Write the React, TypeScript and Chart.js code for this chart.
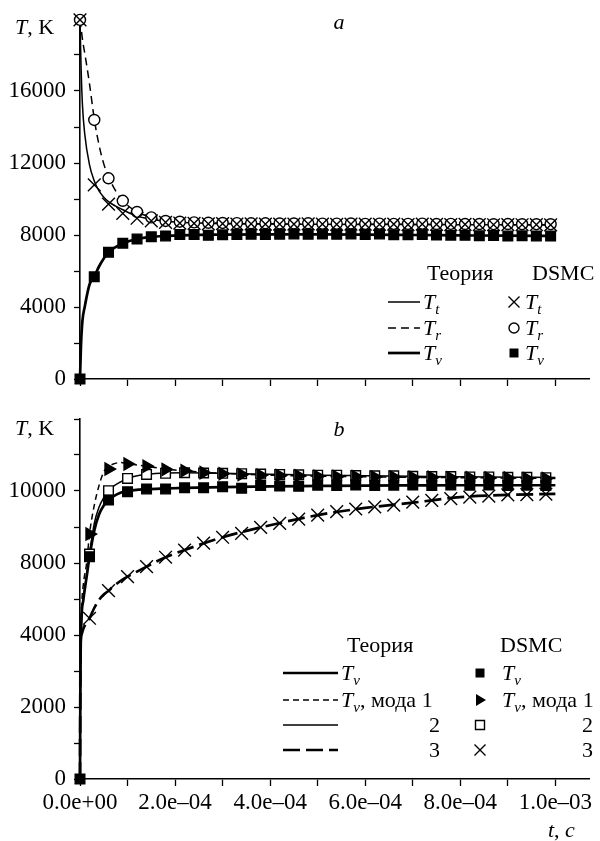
import React, { useEffect, useRef } from 'react';
import { Chart, registerables, LinearScale } from 'chart.js';

// ---------------- DATA ----------------
// Panel a: DSMC sample times (s)
const tDsmcA = [0, 3e-5, 6e-5, 9e-5, 1.2e-4, 1.5e-4, 1.8e-4, 2.1e-4, 2.4e-4, 2.7e-4, 3.0e-4, 3.3e-4, 3.6e-4, 3.9e-4, 4.2e-4, 4.5e-4, 4.8e-4, 5.1e-4, 5.4e-4, 5.7e-4, 6.0e-4, 6.3e-4, 6.6e-4, 6.9e-4, 7.2e-4, 7.5e-4, 7.8e-4, 8.1e-4, 8.4e-4, 8.7e-4, 9.0e-4, 9.3e-4, 9.6e-4, 9.9e-4];
const dsmcTtA = [19950, 10780, 9720, 9200, 8930, 8780, 8700, 8660, 8640, 8620, 8630, 8610, 8620, 8600, 8610, 8600, 8620, 8600, 8590, 8610, 8600, 8590, 8600, 8580, 8600, 8590, 8580, 8590, 8580, 8570, 8580, 8570, 8580, 8560];
const dsmcTrA = [19950, 14390, 11150, 9900, 9280, 8980, 8780, 8740, 8700, 8680, 8670, 8660, 8650, 8650, 8640, 8640, 8650, 8630, 8630, 8640, 8620, 8630, 8620, 8620, 8630, 8610, 8620, 8610, 8610, 8600, 8610, 8600, 8600, 8600];
const dsmcTvA = [0, 5680, 7040, 7540, 7780, 7900, 7940, 8030, 8030, 7980, 8010, 8030, 8040, 8030, 8040, 8050, 8040, 8060, 8040, 8050, 8030, 8050, 8020, 8010, 8030, 8000, 7990, 7980, 7960, 7970, 7950, 7960, 7940, 7950];
// Panel a: theory curves
const tThA = [0, 2e-6, 5e-6, 1e-5, 2e-5, 3e-5, 4e-5, 5e-5, 6e-5, 7.5e-5, 9e-5, 1.2e-4, 1.5e-4, 1.8e-4, 2.5e-4, 3e-4, 4e-4, 5e-4, 6e-4, 7e-4, 8e-4, 9e-4, 1e-3];
const thTtA = [20000, 17600, 15300, 13600, 11900, 11000, 10450, 10100, 9850, 9600, 9400, 9050, 8880, 8760, 8660, 8630, 8610, 8600, 8590, 8580, 8570, 8565, 8560];
const thTrA = [20000, 19600, 18900, 18100, 16400, 14450, 13000, 11950, 11250, 10450, 9900, 9280, 8980, 8800, 8690, 8650, 8620, 8610, 8600, 8590, 8580, 8575, 8570];
const thTvA = [0, 1800, 3200, 4020, 5250, 5700, 6250, 6700, 7040, 7330, 7540, 7780, 7900, 7950, 8010, 8020, 8030, 8030, 8020, 8000, 7980, 7960, 7950];

// Panel b: DSMC sample times (s)
const tDsmcB = [0, 2e-5, 6e-5, 1.0e-4, 1.4e-4, 1.8e-4, 2.2e-4, 2.6e-4, 3.0e-4, 3.4e-4, 3.8e-4, 4.2e-4, 4.6e-4, 5.0e-4, 5.4e-4, 5.8e-4, 6.2e-4, 6.6e-4, 7.0e-4, 7.4e-4, 7.8e-4, 8.2e-4, 8.6e-4, 9.0e-4, 9.4e-4, 9.8e-4];
const dsmcTvB = [0, 8175, 9750, 9980, 10055, 10055, 10090, 10090, 10120, 10075, 10150, 10140, 10130, 10160, 10150, 10170, 10150, 10160, 10170, 10150, 10170, 10160, 10170, 10150, 10160, 10150];
const dsmcM1B = [null, 8805, 10610, 10750, 10690, 10600, 10565, 10510, 10480, 10460, 10440, 10430, 10420, 10410, 10400, 10400, 10390, 10390, 10380, 10380, 10370, 10370, 10360, 10360, 10350, 10350];
const dsmcM2B = [null, 8250, 10010, 10350, 10460, 10490, 10510, 10500, 10490, 10480, 10470, 10460, 10450, 10440, 10440, 10430, 10420, 10420, 10410, 10400, 10400, 10390, 10390, 10380, 10380, 10370];
const dsmcM3B = [null, 4930, 6460, 7240, 7800, 8160, 8360, 8550, 8715, 8825, 8990, 9100, 9220, 9330, 9425, 9500, 9560, 9610, 9690, 9740, 9790, 9830, 9860, 9890, 9900, 9910];
// Panel b: theory curves
const tThB = [0, 1e-6, 3e-6, 7e-6, 1.4e-5, 2e-5, 3e-5, 4e-5, 5e-5, 6e-5, 7e-5, 8.5e-5, 1e-4, 1.4e-4, 1.8e-4, 2.2e-4, 3e-4, 4e-4, 5e-4, 6e-4, 7e-4, 8e-4, 9e-4, 1e-3];
const thTvB = [0, 3000, 4800, 5940, 7240, 8175, 8900, 9350, 9600, 9750, 9850, 9950, 10000, 10050, 10070, 10085, 10110, 10130, 10140, 10150, 10155, 10160, 10160, 10160];
const thM1B = [0, 3500, 5400, 6800, 8000, 8805, 9600, 10150, 10530, 10680, 10750, 10790, 10760, 10690, 10610, 10560, 10490, 10440, 10410, 10395, 10380, 10370, 10360, 10350];
const thM2B = [0, 3000, 4800, 6000, 7300, 8250, 9100, 9550, 9820, 10010, 10130, 10250, 10350, 10460, 10500, 10505, 10490, 10465, 10440, 10425, 10410, 10395, 10385, 10375];
const thM3B = [0, 3600, 4000, 4350, 4700, 4930, 5500, 5950, 6250, 6460, 6700, 7000, 7240, 7800, 8160, 8360, 8715, 9050, 9330, 9530, 9675, 9830, 9890, 9920];

// Ticks
const xTickValues = [0, 1e-4, 2e-4, 3e-4, 4e-4, 5e-4, 6e-4, 7e-4, 8e-4, 9e-4, 1e-3];
const xTickLabels = ['0.0e+00', '', '2.0e\u201304', '', '4.0e\u201304', '', '6.0e\u201304', '', '8.0e\u201304', '', '1.0e\u201303'];
const yTickValuesA = [0, 2000, 4000, 6000, 8000, 10000, 12000, 14000, 16000, 18000, 20000];
const yTickLabelsA = ['0', '', '4000', '', '8000', '', '12000', '', '16000', '', ''];
const yTickValuesB = [0, 1000, 2000, 3000, 4000, 6000, 8000, 9000, 10000, 11000, 12000];
const yTickLabelsB = ['0', '', '2000', '', '4000', '', '8000', '', '10000', '', ''];

// ---------------- SCALE with compressed 4000..8000 segment ----------------
function toBroken(v: number) {
  if (v <= 4000) return v;
  if (v <= 8000) return 4000 + (v - 4000) / 2;
  return 6000 + (v - 8000);
}
function fromBroken(u: number) {
  if (u <= 4000) return u;
  if (u <= 6000) return 4000 + (u - 4000) * 2;
  return 8000 + (u - 6000);
}
class BrokenScale extends LinearScale {
  static id = 'broken';
  getPixelForValue(value: any) {
    if (value === null || value === undefined || isNaN(value)) return NaN;
    return this.getPixelForDecimal((toBroken(value) - toBroken(this.min)) / (toBroken(this.max) - toBroken(this.min)));
  }
  getValueForPixel(pixel: number) {
    const lo = toBroken(this.min), hi = toBroken(this.max);
    return fromBroken(lo + this.getDecimalForPixel(pixel) * (hi - lo));
  }
}
Chart.register(...registerables, BrokenScale);

// ---------------- HELPERS ----------------
const SERIF = '"Liberation Serif", "Times New Roman", Times, serif';
const F = (size: number, italic = false) => `${italic ? 'italic ' : ''}${size}px ${SERIF}`;
const TICK_FONT = 23;
const TXT = 22;
const SUB = 15;

type Run = { t: string; f: string; dy?: number };
function drawRuns(ctx: CanvasRenderingContext2D, x: number, y: number, runs: Run[], align: 'left' | 'right' | 'center' = 'left') {
  let w = 0;
  for (const r of runs) { ctx.font = r.f; w += ctx.measureText(r.t).width; }
  let cx = align === 'right' ? x - w : align === 'center' ? x - w / 2 : x;
  ctx.textAlign = 'left';
  ctx.textBaseline = 'alphabetic';
  for (const r of runs) {
    ctx.font = r.f;
    ctx.fillText(r.t, cx, y + (r.dy || 0));
    cx += ctx.measureText(r.t).width;
  }
}
const Tsub = (s: string): Run[] => [{ t: 'T', f: F(TXT, true) }, { t: s, f: F(SUB, true), dy: 5 }];

function drawMarker(ctx: CanvasRenderingContext2D, kind: string, x: number, y: number) {
  ctx.save();
  ctx.strokeStyle = '#000';
  ctx.fillStyle = '#000';
  ctx.lineWidth = 1.4;
  ctx.setLineDash([]);
  ctx.beginPath();
  if (kind === 'cross') {
    const d = 5.5;
    ctx.moveTo(x - d, y - d); ctx.lineTo(x + d, y + d);
    ctx.moveTo(x + d, y - d); ctx.lineTo(x - d, y + d);
    ctx.stroke();
  } else if (kind === 'circle') {
    ctx.arc(x, y, 5, 0, Math.PI * 2);
    ctx.fillStyle = '#fff'; ctx.fill(); ctx.stroke();
  } else if (kind === 'square') {
    ctx.rect(x - 4.5, y - 4.5, 9, 9); ctx.fill();
  } else if (kind === 'osquare') {
    ctx.rect(x - 4.5, y - 4.5, 9, 9); ctx.fillStyle = '#fff'; ctx.fill(); ctx.stroke();
  } else if (kind === 'tri') {
    ctx.moveTo(x + 6, y); ctx.lineTo(x - 4, y - 6); ctx.lineTo(x - 4, y + 6); ctx.closePath(); ctx.fill();
  }
  ctx.restore();
}
function drawSample(ctx: CanvasRenderingContext2D, x1: number, x2: number, y: number, width: number, dash: number[]) {
  ctx.save();
  ctx.strokeStyle = '#000';
  ctx.lineWidth = width;
  ctx.setLineDash(dash);
  ctx.beginPath(); ctx.moveTo(x1, y); ctx.lineTo(x2, y); ctx.stroke();
  ctx.restore();
}

const pts = (xs: number[], ys: (number | null)[]) =>
  xs.map((x, i) => ({ x, y: ys[i] })).filter((p) => p.y !== null);

const theory = (xs: number[], ys: number[], width: number, dash: number[]) => ({
  data: pts(xs, ys), showLine: true, borderColor: '#000', borderWidth: width, borderDash: dash,
  pointRadius: 0, cubicInterpolationMode: 'monotone', clip: false, fill: false,
});
const markers = (xs: number[], ys: (number | null)[], style: string, radius: number, bg: string, rot = 0) => ({
  data: pts(xs, ys), showLine: false, pointStyle: style, pointRadius: radius, pointRotation: rot,
  pointBackgroundColor: bg, pointBorderColor: '#000', pointBorderWidth: 1.4, clip: false,
});

const LINE_THIN = 1.5, LINE_THICK = 2.7;
const DASH_SHORT = [8, 5], DASH_LONG = [17, 6];

function xScale(showLabels: boolean, height: number) {
  return {
    type: 'linear', min: 0, max: 1.072e-3,
    afterBuildTicks: (s: any) => { s.ticks = xTickValues.map((v) => ({ value: v })); },
    afterFit: (s: any) => { s.height = height; s.paddingLeft = 0; s.paddingRight = 0; },
    grid: { display: true, drawOnChartArea: false, drawTicks: true, tickLength: 7, tickWidth: 1.3, tickColor: '#000', color: '#000' },
    border: { display: true, color: '#000', width: 1.6 },
    ticks: {
      display: showLabels, autoSkip: false, maxRotation: 0, minRotation: 0, padding: 3, color: '#000',
      font: { family: SERIF, size: TICK_FONT }, callback: (_v: any, i: number) => xTickLabels[i],
    },
  };
}
function yScale(type: string, max: number, values: number[], labels: string[]) {
  return {
    type, min: 0, max,
    afterBuildTicks: (s: any) => { s.ticks = values.map((v) => ({ value: v })); },
    afterFit: (s: any) => { s.width = 80; s.paddingTop = 0; s.paddingBottom = 0; },
    grid: { display: true, drawOnChartArea: false, drawTicks: true, tickLength: 6, tickWidth: 1.3, tickColor: '#000', color: '#000' },
    border: { display: true, color: '#000', width: 1.6 },
    ticks: {
      autoSkip: false, padding: 8, color: '#000',
      font: { family: SERIF, size: TICK_FONT }, callback: (_v: any, i: number) => labels[i],
    },
  };
}

function configTop(): any {
  const overlay = {
    id: 'overlayA',
    afterDraw(chart: any) {
      const ctx: CanvasRenderingContext2D = chart.ctx;
      ctx.save();
      ctx.fillStyle = '#000';
      drawRuns(ctx, 15, 34, [{ t: 'T', f: F(TXT, true) }, { t: ', K', f: F(TXT) }]);
      drawRuns(ctx, 339, 29, [{ t: 'a', f: F(TXT, true) }], 'center');
      // legend
      drawRuns(ctx, 427, 280, [{ t: 'Теория', f: F(TXT) }]);
      drawRuns(ctx, 532, 280, [{ t: 'DSMC', f: F(TXT) }]);
      const rows = [
        { y: 302, sub: 't', w: LINE_THIN, dash: [] as number[], m: 'cross' },
        { y: 328, sub: 'r', w: LINE_THIN, dash: DASH_SHORT, m: 'circle' },
        { y: 353, sub: 'v', w: LINE_THICK, dash: [] as number[], m: 'square' },
      ];
      for (const r of rows) {
        drawSample(ctx, 388, 420, r.y, r.w, r.dash);
        drawRuns(ctx, 423, r.y + 7, Tsub(r.sub));
        drawMarker(ctx, r.m, 514, r.y);
        drawRuns(ctx, 525, r.y + 7, Tsub(r.sub));
      }
      ctx.restore();
    },
  };
  return {
    type: 'line',
    data: {
      datasets: [
        markers(tDsmcA, dsmcTtA, 'crossRot', 9, '#000'),
        markers(tDsmcA, dsmcTrA, 'circle', 5.5, '#fff'),
        markers(tDsmcA, dsmcTvA, 'rect', 6.8, '#000'),
        theory(tThA, thTtA, LINE_THIN, []),
        theory(tThA, thTrA, LINE_THIN, DASH_SHORT),
        theory(tThA, thTvA, LINE_THICK, []),
      ],
    },
    options: {
      responsive: false, devicePixelRatio: 1, animation: false, events: [],
      layout: { padding: { top: 19, right: 3, left: 0, bottom: 0 } },
      plugins: { legend: { display: false }, tooltip: { enabled: false } },
      scales: {
        x: xScale(false, 21),
        y: yScale('linear', 20000, yTickValuesA, yTickLabelsA),
      },
    },
    plugins: [overlay],
  };
}

function configBottom(): any {
  const overlay = {
    id: 'overlayB',
    afterDraw(chart: any) {
      const ctx: CanvasRenderingContext2D = chart.ctx;
      ctx.save();
      ctx.fillStyle = '#000';
      drawRuns(ctx, 15, 35, [{ t: 'T', f: F(TXT, true) }, { t: ', K', f: F(TXT) }]);
      drawRuns(ctx, 339, 36, [{ t: 'b', f: F(TXT, true) }], 'center');
      drawRuns(ctx, 548, 437, [{ t: 't', f: F(TXT, true) }, { t: ', ', f: F(TXT) }, { t: 'с', f: F(TXT, true) }]);
      // legend
      drawRuns(ctx, 347, 252, [{ t: 'Теория', f: F(TXT) }]);
      drawRuns(ctx, 500, 252, [{ t: 'DSMC', f: F(TXT) }]);
      const mode1: Run[] = [...Tsub('v'), { t: ', мода 1', f: F(TXT) }];
      const rows = [
        { y: 273, w: LINE_THICK, dash: [] as number[], m: 'square', lab: Tsub('v'), right: false },
        { y: 300, w: LINE_THIN, dash: [6, 4], m: 'tri', lab: mode1, right: false },
        { y: 325, w: LINE_THIN, dash: [] as number[], m: 'osquare', lab: [{ t: '2', f: F(TXT) }], right: true },
        { y: 350, w: LINE_THICK, dash: DASH_LONG, m: 'cross', lab: [{ t: '3', f: F(TXT) }], right: true },
      ];
      for (const r of rows) {
        drawSample(ctx, 283, 338, r.y, r.w, r.dash);
        if (r.right) drawRuns(ctx, 440, r.y + 7, r.lab, 'right');
        else drawRuns(ctx, 341, r.y + 7, r.lab);
        drawMarker(ctx, r.m, 480, r.y);
        if (r.right) drawRuns(ctx, 593, r.y + 7, r.lab, 'right');
        else drawRuns(ctx, 502, r.y + 7, r.lab);
      }
      ctx.restore();
    },
  };
  return {
    type: 'line',
    data: {
      datasets: [
        markers(tDsmcB, dsmcM3B, 'crossRot', 9, '#000'),
        markers(tDsmcB, dsmcM1B, 'triangle', 7, '#000', 90),
        markers(tDsmcB, dsmcTvB, 'rect', 6.8, '#000'),
        markers(tDsmcB, dsmcM2B, 'rect', 6.8, '#fff'),
        theory(tThB, thTvB, LINE_THICK, []),
        theory(tThB, thM1B, LINE_THIN, [6, 4]),
        theory(tThB, thM2B, LINE_THIN, []),
        theory(tThB, thM3B, LINE_THICK, DASH_LONG),
      ],
    },
    options: {
      responsive: false, devicePixelRatio: 1, animation: false, events: [],
      layout: { padding: { top: 19, right: 3, left: 0, bottom: 0 } },
      plugins: { legend: { display: false }, tooltip: { enabled: false } },
      scales: {
        x: xScale(true, 62),
        y: yScale('broken', 12000, yTickValuesB, yTickLabelsB),
      },
    },
    plugins: [overlay],
  };
}

export default function App() {
  const topRef = useRef<HTMLCanvasElement>(null);
  const botRef = useRef<HTMLCanvasElement>(null);
  useEffect(() => {
    const c1 = new Chart(topRef.current as HTMLCanvasElement, configTop());
    const c2 = new Chart(botRef.current as HTMLCanvasElement, configBottom());
    return () => { c1.destroy(); c2.destroy(); };
  }, []);
  return (
    <div style={{ position: 'absolute', left: 0, top: 0, width: 600, height: 841, background: '#fff' }}>
      <canvas ref={topRef} width={600} height={400} style={{ position: 'absolute', left: 0, top: 0, display: 'block' }} />
      <canvas ref={botRef} width={600} height={441} style={{ position: 'absolute', left: 0, top: 400, display: 'block' }} />
    </div>
  );
}
